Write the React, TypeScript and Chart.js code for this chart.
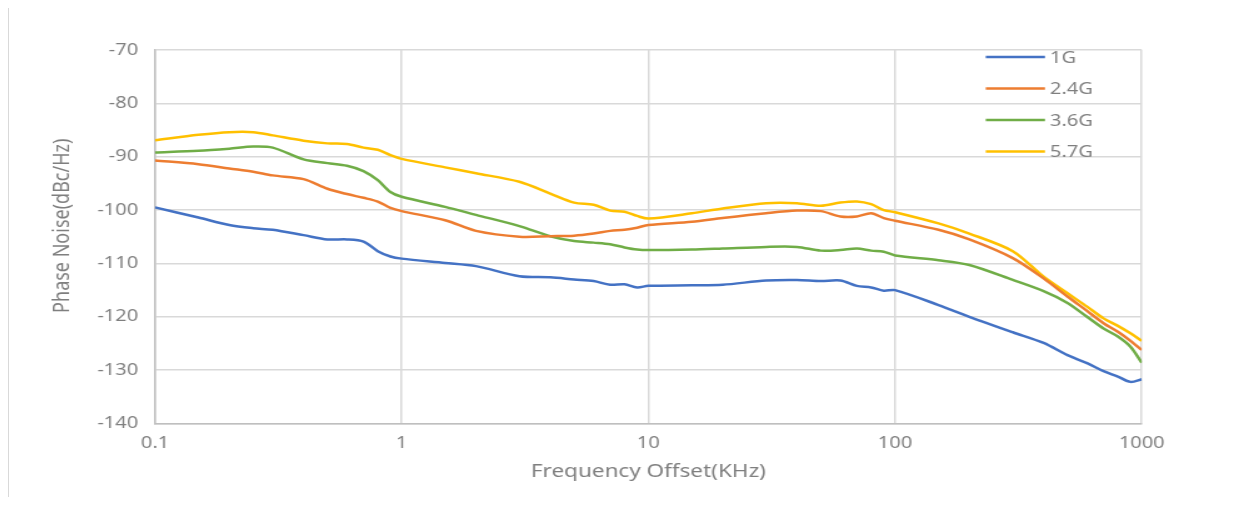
import React, { useEffect, useRef } from "react";
import { Chart, registerables } from "chart.js";

Chart.register(...registerables);

// ---- data ----
const frequencies = [
  0.1, 0.15, 0.2, 0.25, 0.3, 0.4, 0.5, 0.6, 0.7, 0.8, 0.9,
  1, 1.5, 2, 3, 4, 5, 6, 7, 8, 9,
  10, 15, 20, 30, 40, 50, 60, 70, 80, 90,
  100, 150, 200, 300, 400, 500, 600, 700, 800, 900, 1000,
];

const noise1G = [
  -99.5, -101.4, -102.8, -103.4, -103.7, -104.7, -105.5, -105.5, -105.9, -107.7, -108.7,
  -109.1, -109.9, -110.5, -112.4, -112.6, -113.0, -113.3, -114.0, -113.9, -114.5,
  -114.2, -114.1, -114.0, -113.2, -113.1, -113.3, -113.2, -114.2, -114.5, -115.1,
  -115.0, -117.8, -120.0, -122.9, -124.9, -127.2, -128.7, -130.2, -131.2, -132.2, -131.7,
];

const noise2G4 = [
  -90.7, -91.4, -92.2, -92.8, -93.5, -94.2, -96.0, -97.0, -97.7, -98.4, -99.6,
  -100.2, -101.9, -103.9, -105.0, -104.9, -104.8, -104.4, -103.9, -103.7, -103.3,
  -102.8, -102.2, -101.5, -100.6, -100.1, -100.2, -101.2, -101.2, -100.6, -101.5,
  -102.0, -103.7, -105.5, -109.0, -112.8, -116.2, -118.9, -121.2, -122.8, -124.5, -126.2,
];

const noise3G6 = [
  -89.2, -88.9, -88.5, -88.1, -88.3, -90.5, -91.2, -91.7, -92.7, -94.4, -96.6,
  -97.5, -99.4, -100.9, -103.0, -104.9, -105.8, -106.1, -106.4, -107.0, -107.4,
  -107.5, -107.4, -107.2, -106.9, -106.9, -107.6, -107.5, -107.2, -107.6, -107.8,
  -108.5, -109.4, -110.3, -113.1, -115.2, -117.4, -120.0, -122.2, -123.7, -125.6, -128.6,
];

const noise5G7 = [
  -86.9, -85.9, -85.4, -85.4, -86.0, -87.0, -87.5, -87.6, -88.3, -88.7, -89.7,
  -90.4, -92.0, -93.1, -94.7, -96.9, -98.6, -99.0, -100.1, -100.3, -101.1,
  -101.6, -100.6, -99.7, -98.7, -98.7, -99.2, -98.6, -98.4, -98.9, -100.0,
  -100.4, -102.5, -104.4, -107.7, -112.5, -115.6, -118.1, -120.3, -121.7, -123.1, -124.5,
];

const seriesLabels = ["1G", "2.4G", "3.6G", "5.7G"];
const seriesValues = [noise1G, noise2G4, noise3G6, noise5G7];
const seriesColors = ["#4472C4", "#ED7D31", "#70AD47", "#FFC000"];

const xTickValues = [0.1, 1, 10, 100, 1000];
const yMin = -140;
const yMax = -70;
const yStep = 10;

const xTitle = "Frequency Offset(KHz)";
const yTitle = "Phase Noise(dBc/Hz)";

// ---- look ----
const STRETCH = 1.25;
const CSS_W = 1225;
const CSS_H = 489;
const W = Math.round(CSS_W / STRETCH);
const FONT = '"Noto Sans", "DejaVu Sans", sans-serif';
const TEXT = "#7f7f7f";
const GRID = "#d9d9d9";
const AXIS = "#bfbfbf";

const insideLegend = {
  id: "insideLegend",
  afterDatasetsDraw(chart: any) {
    const { ctx, chartArea } = chart;
    ctx.save();
    ctx.font = `16px ${FONT}`;
    ctx.textBaseline = "middle";
    ctx.textAlign = "left";
    chart.data.datasets.forEach((ds: any, i: number) => {
      const y = chartArea.top + 7 + i * 31.5;
      ctx.strokeStyle = ds.borderColor;
      ctx.lineWidth = 2.5;
      ctx.beginPath();
      ctx.moveTo(chartArea.right - 124.8, y);
      ctx.lineTo(chartArea.right - 77.4, y);
      ctx.stroke();
      ctx.fillStyle = TEXT;
      ctx.fillText(ds.label, chartArea.right - 73.4, y + 1);
    });
    ctx.restore();
  },
};

// y-axis title, placed slightly above the plot's vertical centre as in the reference
const yAxisTitle = {
  id: "yAxisTitle",
  afterDraw(chart: any) {
    const { ctx, chartArea } = chart;
    const yScale = chart.scales.y;
    ctx.save();
    ctx.font = `18px ${FONT}`;
    ctx.fillStyle = TEXT;
    ctx.textAlign = "center";
    ctx.textBaseline = "middle";
    ctx.translate(yScale.left + 10.8, (chartArea.top + chartArea.bottom) / 2 - 11);
    ctx.rotate(-Math.PI / 2);
    ctx.fillText(yTitle, 0, 0);
    ctx.restore();
  },
};

export default function App() {
  const ref = useRef<HTMLCanvasElement | null>(null);

  useEffect(() => {
    if (!ref.current) return;
    const chart = new Chart(ref.current, {
      type: "line",
      data: {
        datasets: seriesLabels.map((label, i) => ({
          label,
          data: frequencies.map((f, j) => ({ x: f, y: seriesValues[i][j] })),
          borderColor: seriesColors[i],
          backgroundColor: seriesColors[i],
          borderWidth: 2.5,
          pointRadius: 0,
          tension: 0.3,
          fill: false,
        })),
      },
      options: {
        responsive: false,
        animation: false,
        devicePixelRatio: 1,
        layout: { padding: { left: 31.6, right: 73.8, top: 42, bottom: 14 } },
        plugins: {
          legend: { display: false },
          tooltip: { enabled: false },
        },
        scales: {
          x: {
            type: "logarithmic",
            min: 0.1,
            max: 1000,
            afterBuildTicks: (s: any) => {
              s.ticks = xTickValues.map((v) => ({ value: v }));
            },
            afterFit: (s: any) => {
              s.height = 59.5;
            },
            ticks: {
              callback: (v: any) => String(v),
              font: { family: FONT, size: 16 },
              color: TEXT,
              padding: 10,
              maxRotation: 0,
              autoSkip: false,
            },
            grid: { color: GRID, lineWidth: 1.5, drawTicks: false },
            border: { color: AXIS, width: 1.5 },
            title: {
              display: true,
              text: xTitle,
              font: { family: FONT, size: 18 },
              color: TEXT,
              padding: 0,
            },
          },
          y: {
            type: "linear",
            min: yMin,
            max: yMax,
            afterFit: (s: any) => {
              s.width = 85.2;
            },
            ticks: {
              stepSize: yStep,
              font: { family: FONT, size: 16 },
              color: TEXT,
              padding: 13.5,
            },
            grid: { color: GRID, lineWidth: 1.5, drawTicks: false },
            border: { color: AXIS, width: 1.5 },
            title: { display: false, text: yTitle },
          },
        },
      },
      plugins: [insideLegend, yAxisTitle],
    } as any);
    return () => chart.destroy();
  }, []);

  return (
    <div
      style={{
        width: CSS_W,
        height: CSS_H,
        borderTop: `1px solid ${GRID}`,
        borderLeft: `1px solid ${GRID}`,
        marginTop: -1,
      }}
    >
      <canvas
        ref={ref}
        width={W}
        height={CSS_H}
        style={{ width: CSS_W, height: CSS_H, display: "block" }}
      />
    </div>
  );
}
